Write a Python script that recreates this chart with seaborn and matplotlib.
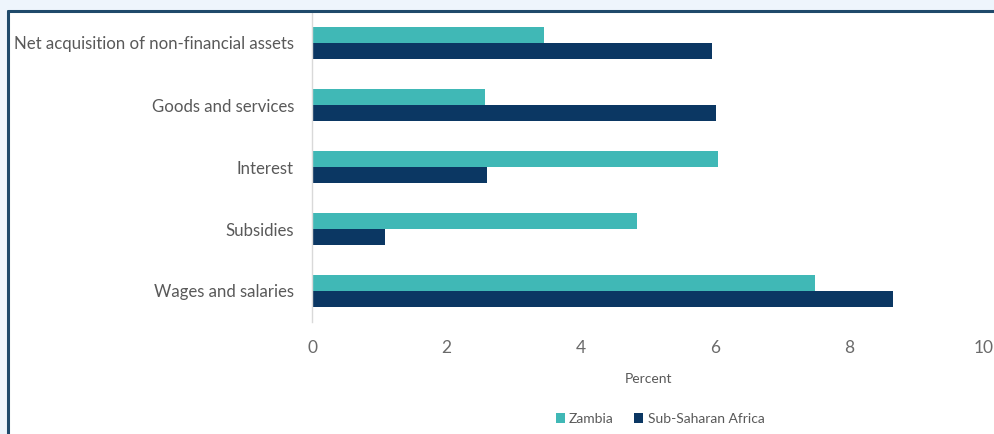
import matplotlib
matplotlib.use("Agg")
import matplotlib.pyplot as plt
import seaborn as sns
import pandas as pd
from matplotlib.lines import Line2D
from matplotlib.patches import Rectangle, Patch

categories = ["Net acquisition of non-financial assets", "Goods and services",
              "Interest", "Subsidies", "Wages and salaries"]
zambia = [3.45, 2.57, 6.04, 4.84, 7.49]
ssa = [5.95, 6.01, 2.60, 1.09, 8.65]
series = ["Zambia", "Sub-Saharan Africa"]
colors = ["#40B8B6", "#0B3763"]
xticks = [0, 2, 4, 6, 8, 10]

df = pd.DataFrame({
    "category": categories * 2,
    "value": zambia + ssa,
    "series": [series[0]] * len(categories) + [series[1]] * len(categories),
})

sns.set_theme(style="white")
plt.rcParams["font.family"] = ["Lato", "DejaVu Sans"]

fig = plt.figure(figsize=(9.94, 4.34), dpi=100)
fig.patch.set_facecolor("#EEF5FC")
W, H = 994, 434
# white panel with top/left border
fig.add_artist(Rectangle((8 / W, 0), 1 - 8 / W, 1 - 11 / H, transform=fig.transFigure,
                         facecolor="white", edgecolor="none", zorder=0))
fig.add_artist(Line2D([8 / W, 1], [1 - 11 / H, 1 - 11 / H], transform=fig.transFigure,
                      color="#1F4A6B", lw=2.2, zorder=1))
fig.add_artist(Line2D([8 / W, 8 / W], [0, 1 - 11 / H], transform=fig.transFigure,
                      color="#1F4A6B", lw=2.2, zorder=1))

ax = fig.add_axes([312 / W, 1 - 322 / H, (984 - 312) / W, 310 / H])
ax.set_facecolor("none")
sns.barplot(data=df, y="category", x="value", hue="series", order=categories,
            hue_order=series, palette=colors, width=0.52, orient="h",
            saturation=1, legend=False, linewidth=0, edgecolor="none", ax=ax)

ax.set_xlim(0, 10)
ax.set_ylim(4.5, -0.5)
ax.set_xticks(xticks)
ax.set_xticklabels([str(t) for t in xticks])
for s in ["top", "right", "bottom"]:
    ax.spines[s].set_visible(False)
ax.spines["left"].set_color("#D9D9D9")
ax.spines["left"].set_linewidth(1)
ax.tick_params(axis="x", length=0, pad=13, labelsize=12.5, labelcolor="#6A6A6A")
ax.tick_params(axis="y", length=0, pad=13, labelsize=12.1, labelcolor="#595959")
ax.set_ylabel("")
ax.set_xlabel("Percent", fontsize=10, color="#595959", labelpad=12)

handles = [Patch(facecolor=c, edgecolor="none") for c in colors]
fig.legend(handles, series, loc="center", bbox_to_anchor=(660 / W, 1 - 419 / H),
           ncol=2, frameon=False, fontsize=10, handlelength=0.65, handleheight=0.7,
           handletextpad=0.3, columnspacing=1.5, labelcolor="#595959")

fig.savefig("out.png", dpi=100, facecolor=fig.get_facecolor())
